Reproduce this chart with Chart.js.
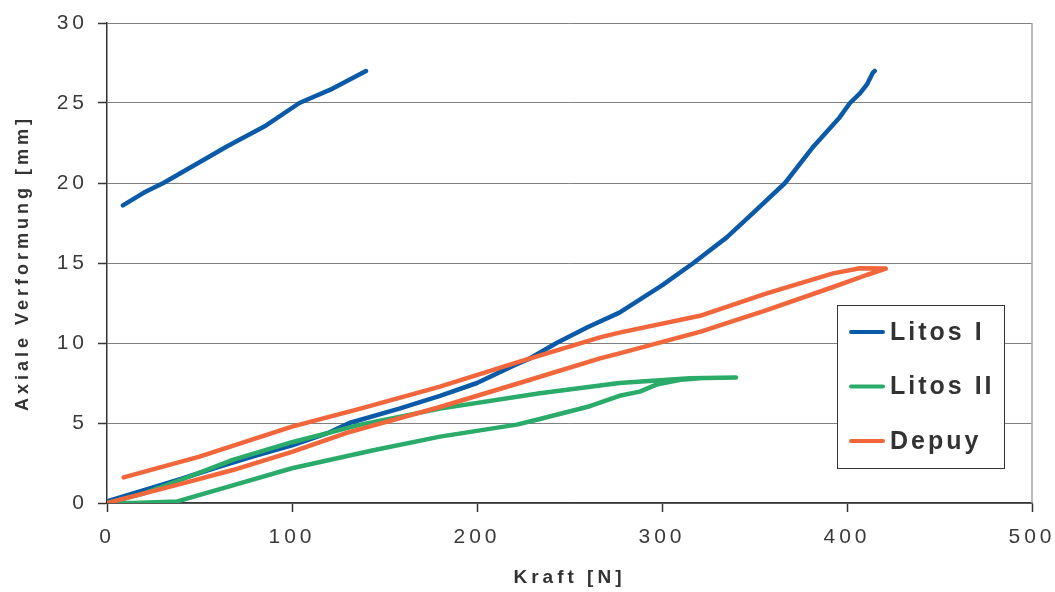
<!DOCTYPE html>
<html>
<head>
<meta charset="utf-8">
<script src="https://cdn.jsdelivr.net/npm/chart.js@4/dist/chart.umd.min.js"></script>
<style>
  html, body { margin: 0; padding: 0; background: #ffffff; }
  #wrap { width: 1055px; height: 592px; position: relative; }
</style>
</head>
<body>
<div id="wrap"><canvas id="c" width="1055" height="592"></canvas></div>
<script>
// ---- data ----
const seriesNames = ['Litos I', 'Litos II', 'Depuy'];
const xTicks = [0, 100, 200, 300, 400, 500];
const yTicks = [0, 5, 10, 15, 20, 25, 30];

const litos1X = [0, 20, 40, 60, 80, 100, 120, 131, 158, 180, 200, 220, 228, 243, 260, 277, 300, 317, 335, 349, 366.5, 382, 396, 401.6, 407, 411, 414, 415,
                 415,
                 8.6, 20, 30.5, 50, 65, 86, 104, 122, 140];
const litos1Y = [0.1, 0.8, 1.5, 2.25, 2.95, 3.6, 4.4, 5.0, 5.9, 6.7, 7.5, 8.6, 9.0, 10.0, 11.0, 11.9, 13.6, 15.0, 16.6, 18.1, 20.0, 22.3, 24.1, 25.0, 25.6, 26.2, 26.9, 27.0,
                 null,
                 18.6, 19.4, 20.0, 21.3, 22.3, 23.6, 25.0, 25.9, 27.0];

const litos2X = [0, 20, 41, 68, 100, 137, 180, 234, 277, 315, 340, 325, 310, 297, 288, 277, 261, 234, 221.5, 180, 144, 100, 68, 38, 14, 0];
const litos2Y = [0, 0.6, 1.5, 2.7, 3.8, 4.9, 5.9, 6.86, 7.5, 7.8, 7.85, 7.82, 7.7, 7.4, 6.96, 6.7, 6.05, 5.25, 4.9, 4.15, 3.3, 2.17, 1.1, 0.1, 0, 0];

const depuyX = [0, 41, 68, 100, 130, 180, 223, 266.5, 277, 320.5, 356.6, 392.5, 410.6, 421, 407, 392.5, 356.6, 320.5, 277, 266.5, 223, 180, 137, 100, 50, 9];
const depuyY = [0, 1.23, 2.06, 3.2, 4.4, 6.0, 7.5, 9.04, 9.35, 10.7, 12.06, 13.5, 14.25, 14.65, 14.67, 14.35, 13.1, 11.7, 10.65, 10.35, 8.83, 7.27, 5.9, 4.77, 2.9, 1.6];

const seriesColors = ['#0a5aa8', '#2aab6a', '#f2663b'];

function pts(xs, ys) { return xs.map((x, i) => ({ x: x, y: ys[i] })); }

const spacingPlugin = {
  id: 'spacing',
  beforeLayout(chart) { chart.ctx.letterSpacing = '4px'; },
  beforeDraw(chart) { chart.ctx.letterSpacing = '4px'; }
};

const framePlugin = {
  id: 'frame',
  afterDraw(chart) {
    const ctx = chart.ctx, a = chart.chartArea;
    ctx.save();
    // right border of plot
    ctx.strokeStyle = '#aaa3a3';
    ctx.lineWidth = 1.5;
    ctx.beginPath();
    ctx.moveTo(a.right, a.top);
    ctx.lineTo(a.right, a.bottom);
    ctx.stroke();
    // legend box
    const bx = a.right - 195, by = a.top + 282, bw = 167, bh = 163;
    ctx.fillStyle = '#ffffff';
    ctx.fillRect(bx, by, bw, bh);
    ctx.strokeStyle = '#333333';
    ctx.lineWidth = 1;
    ctx.strokeRect(bx + 0.5, by + 0.5, bw, bh);
    ctx.letterSpacing = '3px';
    ctx.font = 'bold 25px "Liberation Sans", Arial, sans-serif';
    ctx.textBaseline = 'middle';
    ctx.textAlign = 'left';
    chart.data.datasets.forEach((ds, i) => {
      const ly = by + 27 + i * 54.5;
      ctx.strokeStyle = ds.borderColor;
      ctx.lineWidth = 4;
      ctx.lineCap = 'round';
      ctx.beginPath();
      ctx.moveTo(bx + 14, ly);
      ctx.lineTo(bx + 46, ly);
      ctx.stroke();
      ctx.fillStyle = '#333333';
      ctx.fillText(ds.label, bx + 53, ly + 1);
    });
    ctx.restore();
  }
};

const datasets = [
  { label: seriesNames[0], data: pts(litos1X, litos1Y), borderColor: seriesColors[0], backgroundColor: seriesColors[0], order: 3 },
  { label: seriesNames[1], data: pts(litos2X, litos2Y), borderColor: seriesColors[1], backgroundColor: seriesColors[1], order: 2 },
  { label: seriesNames[2], data: pts(depuyX, depuyY), borderColor: seriesColors[2], backgroundColor: seriesColors[2], order: 1 }
].map(d => Object.assign(d, {
  showLine: true, pointRadius: 0, pointHoverRadius: 0, borderWidth: 4.5,
  tension: 0, spanGaps: false, borderJoinStyle: 'round', borderCapStyle: 'round', fill: false
}));

new Chart(document.getElementById('c'), {
  type: 'scatter',
  data: { datasets: datasets },
  options: {
    responsive: false,
    animation: false,
    devicePixelRatio: 1,
    layout: { padding: { top: 23, right: 23, left: 0, bottom: 0 } },
    plugins: { legend: { display: false }, tooltip: { enabled: false } },
    scales: {
      x: {
        type: 'linear', min: xTicks[0], max: xTicks[xTicks.length - 1],
        afterFit(s) { s.height = 89; s.paddingLeft = 0; s.paddingRight = 0; },
        afterBuildTicks(s) { s.ticks = xTicks.map(v => ({ value: v })); },
        grid: { drawOnChartArea: false, drawTicks: true, tickLength: 9, tickColor: '#333333', tickWidth: 1.5 },
        border: { display: true, color: '#333333', width: 1.5 },
        ticks: { padding: 13, color: '#3a3a3a', maxRotation: 0, font: { family: '"Liberation Sans", Arial, sans-serif', size: 21 } },
        title: { display: true, text: 'Kraft [N]', color: '#333333', padding: { top: 0, bottom: 3 },
                 font: { family: '"Liberation Sans", Arial, sans-serif', size: 19, weight: 'bold' } }
      },
      y: {
        type: 'linear', min: yTicks[0], max: yTicks[yTicks.length - 1],
        afterFit(s) { s.width = 107; s.paddingTop = 0; s.paddingBottom = 0; },
        afterBuildTicks(s) { s.ticks = yTicks.map(v => ({ value: v })); },
        grid: { color: '#808080', lineWidth: 1, drawTicks: true, tickLength: 9, tickColor: '#333333', tickWidth: 1.5 },
        border: { display: true, color: '#333333', width: 1.5 },
        ticks: { padding: 10, color: '#3a3a3a', font: { family: '"Liberation Sans", Arial, sans-serif', size: 21 } },
        title: { display: true, text: 'Axiale Verformung [mm]', color: '#333333', padding: { top: 12, bottom: 0 },
                 font: { family: '"Liberation Sans", Arial, sans-serif', size: 18, weight: 'bold' } }
      }
    }
  },
  plugins: [spacingPlugin, framePlugin]
});
</script>
</body>
</html>
